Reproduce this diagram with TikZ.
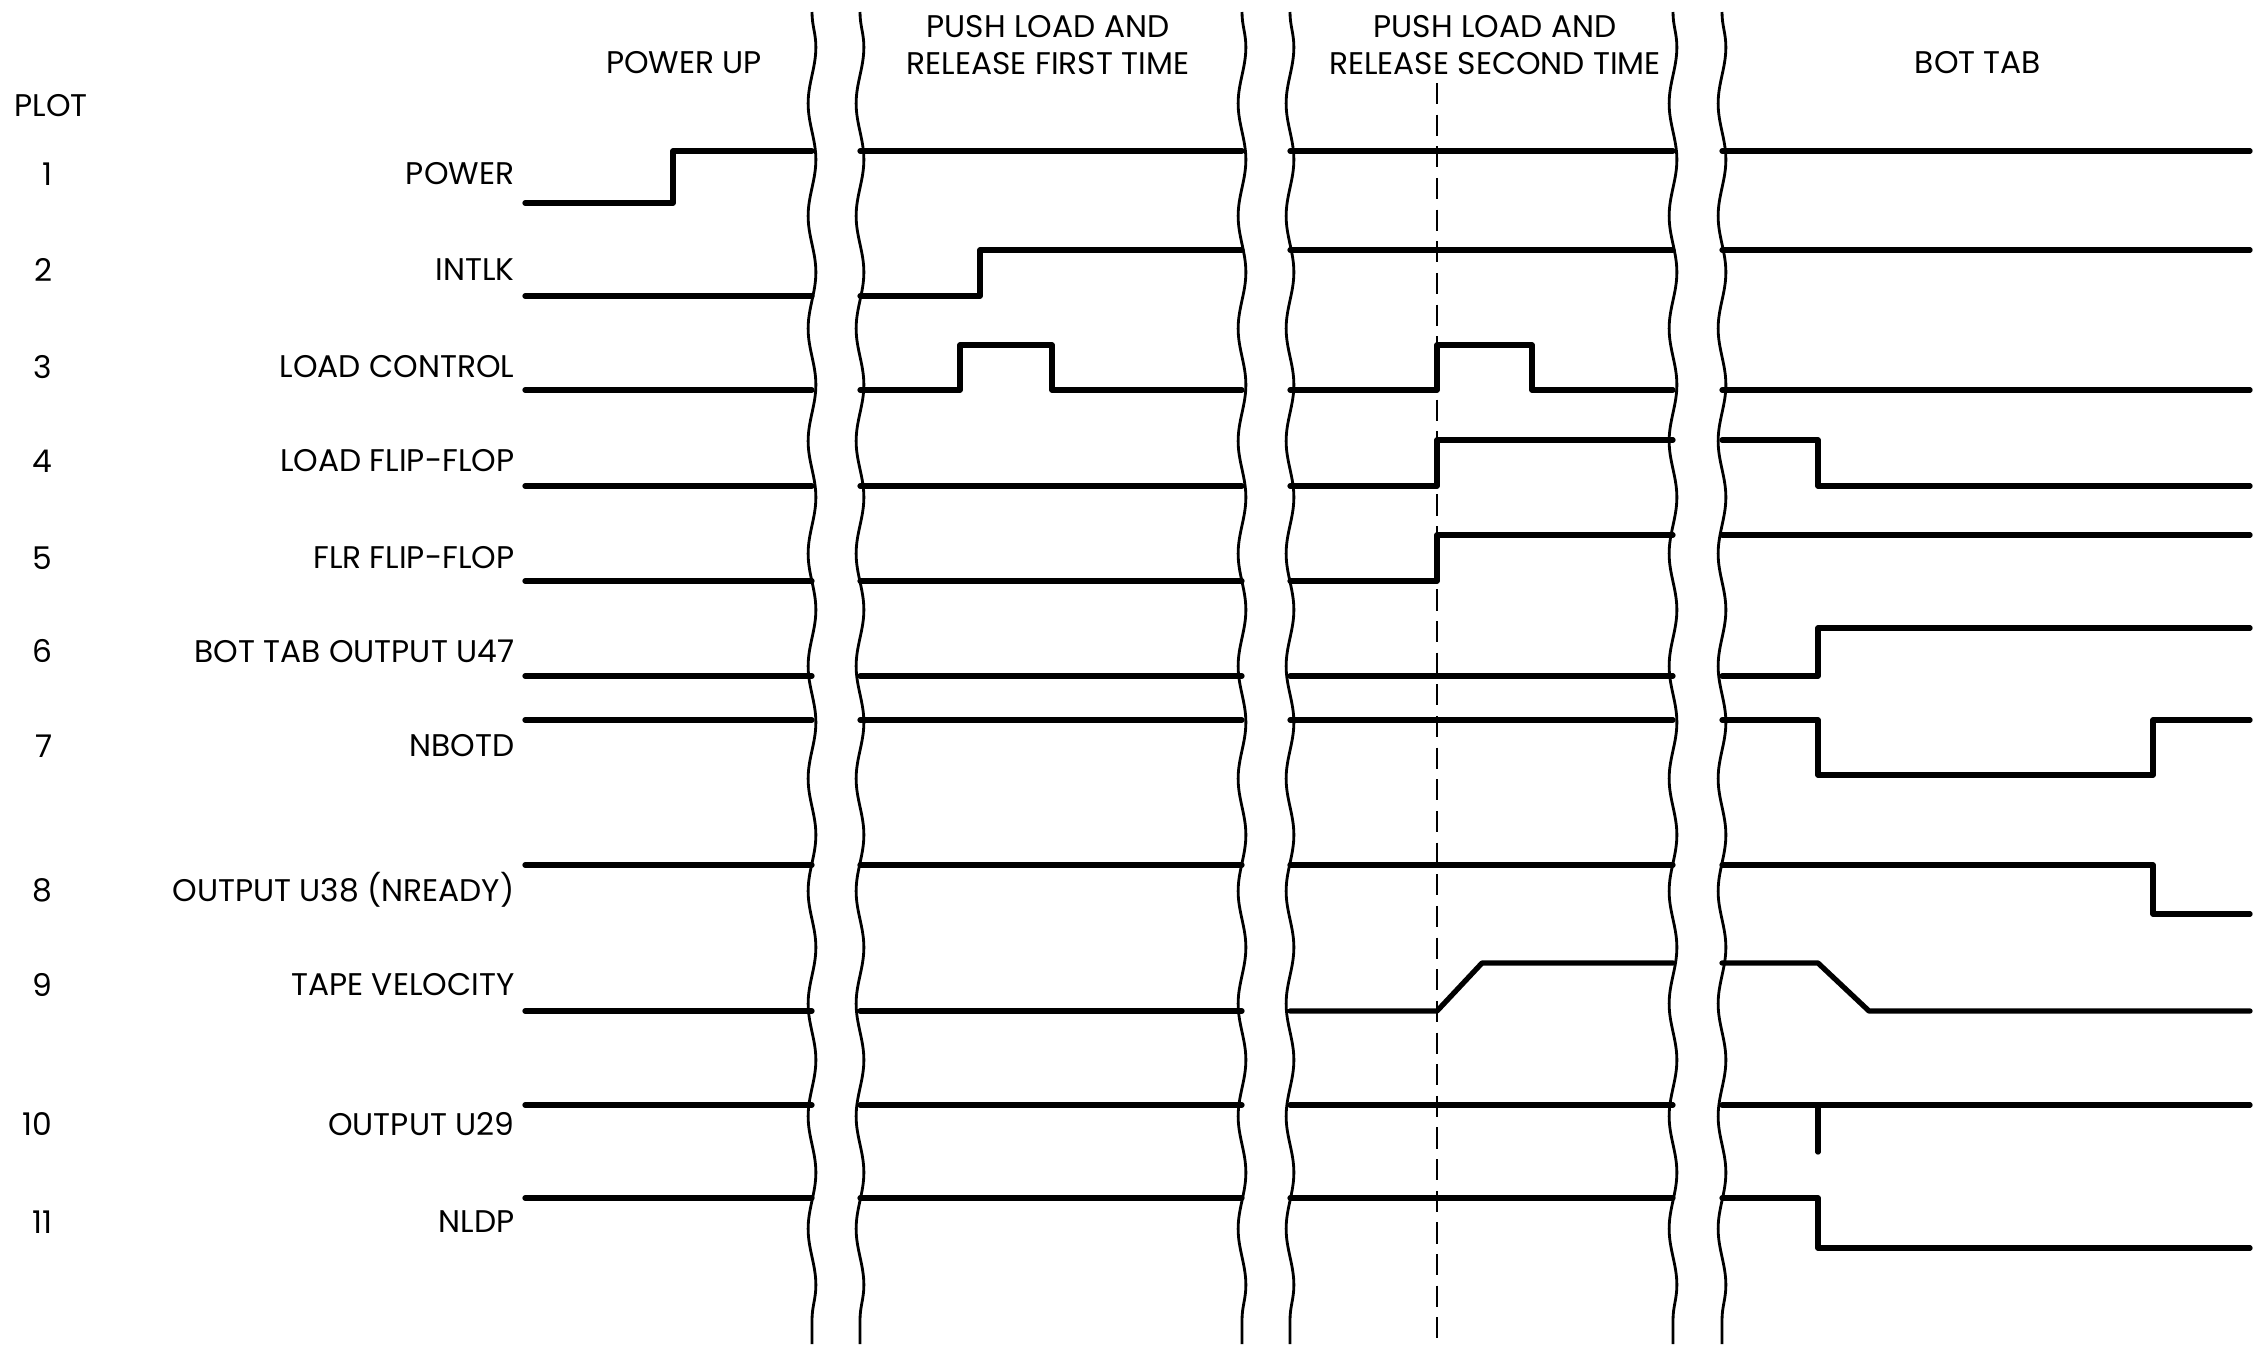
\documentclass[tikz,border=0pt]{standalone}
\usepackage{fontspec}
\setmainfont{Poppins}
\usetikzlibrary{decorations.pathmorphing}
\tikzset{
    sig/.style={line width=1.5pt, line join=round, line cap=round},
    brk/.style={line width=0.8pt, decorate, decoration={snake, segment length=32pt, amplitude=1.1pt}},
    strobe/.style={line width=0.75pt, dash pattern=on 6pt off 3pt},
    lbl/.style={anchor=east, inner sep=0pt, font=\fontsize{8.9}{10.6}\selectfont},
    hdr/.style={align=center, inner sep=0pt, font=\fontsize{8.9}{10.6}\selectfont},
  }
\begin{document}
\begin{tikzpicture}[x=0.01cm,y=-0.01cm]
  \useasboundingbox (0,0) rectangle (2254,1344);
  % headers
  \node[hdr] (hpow) at (684,63) {POWER UP};
  \node[hdr] (hfirst) at (1048,45) {PUSH LOAD AND\\RELEASE FIRST TIME};
  \node[hdr] (hsecond) at (1495,45) {PUSH LOAD AND\\RELEASE SECOND TIME};
  \node[hdr] (hbot) at (1978,63) {BOT TAB};
  \node[lbl, anchor=west] (plot) at (14,106) {PLOT};
  % breaks in time axis
  \foreach \x in {812,860,1242,1290,1673,1722}
    \draw[brk] (\x,12) -- (\x,1344);
  \draw[strobe] (1437,83) -- (1437,1344);
  % plot numbers and names
  \foreach \i/\y/\name in {1/174/POWER, 2/270/INTLK, 3/367/LOAD CONTROL,
      4/461/LOAD FLIP-FLOP, 5/558/FLR FLIP-FLOP, 6/651/BOT TAB OUTPUT U47,
      7/746/NBOTD, 8/890/{OUTPUT U38 (NREADY)}, 9/985/TAPE VELOCITY,
      10/1124/OUTPUT U29, 11/1222/NLDP}{
    \node[lbl] (n\i) at (53,\y) {\i};
    \node[lbl] (l\i) at (515,\y) {\name};
  }
  % 1 power
  \draw[sig] (525,203) -- (673,203) -- (673,151) -- (812,151);
  \draw[sig] (860,151) -- (1242,151);
  \draw[sig] (1290,151) -- (1673,151);
  \draw[sig] (1722,151) -- (2250,151);
  % 2 intlk
  \draw[sig] (525,296) -- (812,296);
  \draw[sig] (860,296) -- (980,296) -- (980,250) -- (1242,250);
  \draw[sig] (1290,250) -- (1673,250);
  \draw[sig] (1722,250) -- (2250,250);
  % 3 load control
  \draw[sig] (525,390) -- (812,390);
  \draw[sig] (860,390) -- (960,390) -- (960,345) -- (1052,345) -- (1052,390) -- (1242,390);
  \draw[sig] (1290,390) -- (1437,390) -- (1437,345) -- (1532,345) -- (1532,390) -- (1673,390);
  \draw[sig] (1722,390) -- (2250,390);
  % 4 load flip-flop
  \draw[sig] (525,486) -- (812,486);
  \draw[sig] (860,486) -- (1242,486);
  \draw[sig] (1290,486) -- (1437,486) -- (1437,440) -- (1673,440);
  \draw[sig] (1722,440) -- (1818,440) -- (1818,486) -- (2250,486);
  % 5 flr flip-flop
  \draw[sig] (525,581) -- (812,581);
  \draw[sig] (860,581) -- (1242,581);
  \draw[sig] (1290,581) -- (1437,581) -- (1437,535) -- (1673,535);
  \draw[sig] (1722,535) -- (2250,535);
  % 6 bot tab output
  \draw[sig] (525,676) -- (812,676);
  \draw[sig] (860,676) -- (1242,676);
  \draw[sig] (1290,676) -- (1673,676);
  \draw[sig] (1722,676) -- (1818,676) -- (1818,628) -- (2250,628);
  % 7 nbotd
  \draw[sig] (525,720) -- (812,720);
  \draw[sig] (860,720) -- (1242,720);
  \draw[sig] (1290,720) -- (1673,720);
  \draw[sig] (1722,720) -- (1818,720) -- (1818,775) -- (2153,775) -- (2153,720) -- (2250,720);
  % 8 nready
  \draw[sig] (525,865) -- (812,865);
  \draw[sig] (860,865) -- (1242,865);
  \draw[sig] (1290,865) -- (1673,865);
  \draw[sig] (1722,865) -- (2153,865) -- (2153,914) -- (2250,914);
  % 9 tape velocity
  \draw[sig] (525,1011) -- (812,1011);
  \draw[sig] (860,1011) -- (1242,1011);
  \draw[sig] (1290,1011) -- (1437,1011) -- (1482,963) -- (1673,963);
  \draw[sig] (1722,963) -- (1818,963) -- (1869,1011) -- (2250,1011);
  % 10 output u29
  \draw[sig] (525,1105) -- (812,1105);
  \draw[sig] (860,1105) -- (1242,1105);
  \draw[sig] (1290,1105) -- (1673,1105);
  \draw[sig] (1722,1105) -- (2250,1105);
  \draw[sig] (1818,1105) -- (1818,1152);
  % 11 nldp
  \draw[sig] (525,1198) -- (812,1198);
  \draw[sig] (860,1198) -- (1242,1198);
  \draw[sig] (1290,1198) -- (1673,1198);
  \draw[sig] (1722,1198) -- (1818,1198) -- (1818,1248) -- (2250,1248);
\end{tikzpicture}
\end{document}
